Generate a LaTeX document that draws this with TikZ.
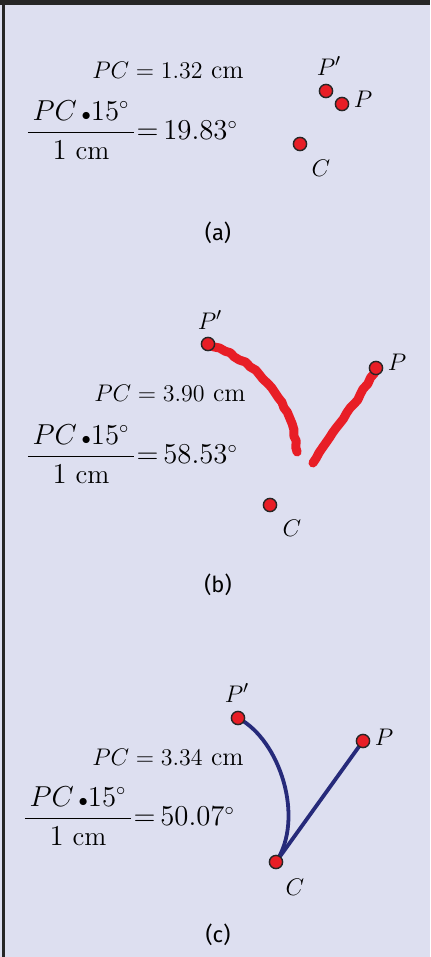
\documentclass[tikz,border=0pt]{standalone}
\usepackage{amsmath,amssymb}
\usepackage{fontspec}
\setsansfont{Fira Sans}
\usepackage{tikz}
\usetikzlibrary{decorations.pathmorphing}
\usepackage{xcolor}
\definecolor{bg}{RGB}{221,223,240}
\definecolor{dotred}{RGB}{232,30,38}
\definecolor{navy}{RGB}{38,42,122}
\pgfdeclarelayer{back}
\pgfsetlayers{back,main}

\begin{document}
\begin{tikzpicture}[x=0.5pt,y=-0.5pt,every node/.style={inner sep=0pt,anchor=center,font=\fontsize{13}{15}\selectfont},
	point/.style={circle,draw=black!85,fill=dotred,line width=0.7pt,minimum size=6.6pt},
	ratio/.style={anchor=west,font=\fontsize{13.5}{16}\selectfont},
	panel/.style={font=\sffamily\fontsize{11}{13}\selectfont},
	trace/.style={dotred,line width=4.5pt,line cap=round,line join=round,decorate,decoration={random steps,segment length=3pt,amplitude=0.5pt}},
	locus/.style={navy,line width=1.9pt,line cap=round}]
		\useasboundingbox (0,0) rectangle (430,957);
		\begin{pgfonlayer}{back}
			\fill[bg] (0,0) rectangle (430,957);
		\end{pgfonlayer}
		\fill[black!85] (0,0) rectangle (430,5);
		\draw[black!85,line width=1.2pt] (3.5,0) -- (3.5,957);
		
		% (a)
		\node (pca) at (168,70) {$PC = 1.32\ \mathrm{cm}$};
		\node[ratio] (fra) at (25,130) {$\dfrac{\,PC\,{\scriptstyle\bullet}15^\circ\,}{1\ \mathrm{cm}}{=}\,19.83^\circ$};
		\node[point] (ppa) at (326,91) {};
		\node[point] (pa) at (342,104) {};
		\node[point] (ca) at (300,144) {};
		\node (lppa) at (329,66) {$P'$};
		\node (lpa) at (363,99) {$P$};
		\node (lca) at (321,168) {$C$};
		\node[panel] (capa) at (218,233) {(a)};
		
		% (b)
		\node (pcb) at (170,393) {$PC = 3.90\ \mathrm{cm}$};
		\node[ratio] (frb) at (25,454) {$\dfrac{\,PC\,{\scriptstyle\bullet}15^\circ\,}{1\ \mathrm{cm}}{=}\,58.53^\circ$};
		\node[point] (ppb) at (208,344) {};
		\node[point] (pb) at (376,368) {};
		\node[point] (cb) at (270,505) {};
		\node (lppb) at (210,320) {$P'$};
		\node (lpb) at (397,362) {$P$};
		\node (lcb) at (292,528) {$C$};
		\coordinate (eb1) at (297,452);
		\coordinate (eb2) at (313,463);
		\begin{pgfonlayer}{back}
			\draw[trace] (ppb.center) .. controls (250,358) and (292,395) .. (eb1);
			\draw[trace] (pb.center) .. controls (365,392) and (335,428) .. (eb2);
		\end{pgfonlayer}
		\node[panel] (capb) at (218,585) {(b)};
		
		% (c)
		\node (pcc) at (168,757) {$PC = 3.34\ \mathrm{cm}$};
		\node[ratio] (frc) at (22,816) {$\dfrac{\,PC\,{\scriptstyle\bullet}15^\circ\,}{1\ \mathrm{cm}}{=}\,50.07^\circ$};
		\node[point] (ppc) at (238,718) {};
		\node[point] (pc) at (363,741) {};
		\node[point] (cc) at (276,862) {};
		\node (lppc) at (237,693) {$P'$};
		\node (lpc) at (384,737) {$P$};
		\node (lcc) at (295,887) {$C$};
		\begin{pgfonlayer}{back}
			\draw[locus] (ppc.center) .. controls (280,740) and (305,818) .. (cc.center);
			\draw[locus] (cc.center) -- (pc.center);
		\end{pgfonlayer}
		\node[panel] (capc) at (218,935) {(c)};
	\end{tikzpicture}
\end{document}
